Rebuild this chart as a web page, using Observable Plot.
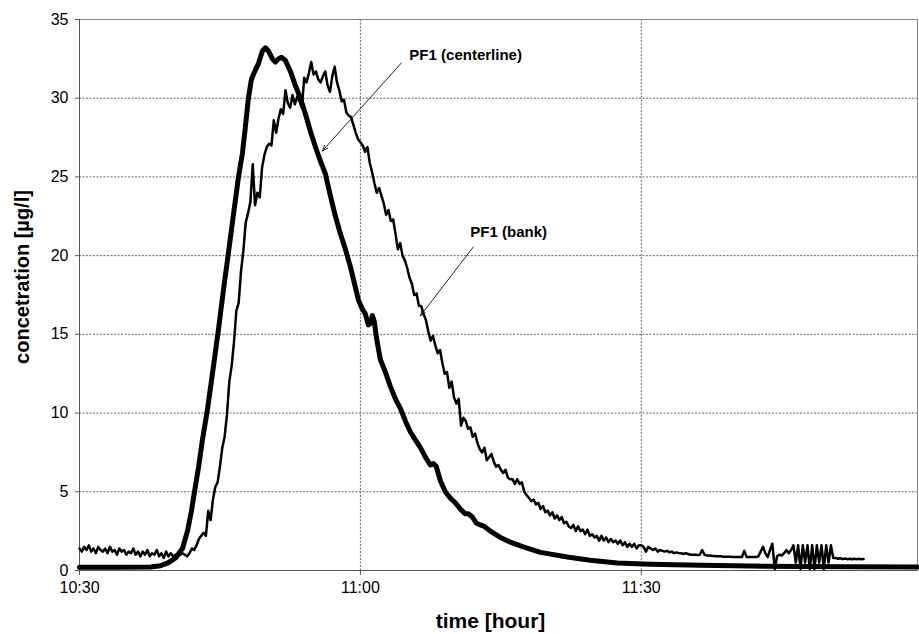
<!DOCTYPE html>
<html><head><meta charset="utf-8">
<script src="https://cdn.jsdelivr.net/npm/d3@7"></script>
<script src="https://cdn.jsdelivr.net/npm/@observablehq/plot@0.6"></script>
<style>body{margin:0;background:#fff;font-family:"Liberation Sans",Arial,sans-serif}</style>
</head><body><div id="chart"></div>
<script>
// time axis: minutes after 10:30
const xTicks = [0, 30, 60];
const xTickLabels = ["10:30", "11:00", "11:30"];
const yTicks = [0, 5, 10, 15, 20, 25, 30, 35];
const gridY = [5, 10, 15, 20, 25, 30];
const gridX = [30, 60];
const xLabel = "time [hour]";
const yLabel = "concetration [µg/l]";

// PF1 (centerline): thick curve, [minutes after 10:30]
const centerTime = [0,4.38,7.58,8.65,9.50,10.25,11.00,11.53,11.96,12.28,12.70,13.13,13.66,14.20,14.84,15.37,15.91,16.44,16.98,17.40,17.72,18.04,18.36,18.79,19.11,19.54,19.86,20.18,20.60,20.92,21.24,21.57,21.99,22.53,23.06,23.60,24.13,24.66,25.20,25.73,26.26,26.80,27.33,27.86,28.40,28.93,29.46,29.78,30.21,30.53,30.85,31.07,31.28,31.49,31.71,32.13,32.67,33.20,33.74,34.27,34.80,35.34,35.87,36.41,36.94,37.47,37.79,38.11,38.54,39.07,39.61,40.14,40.68,41.21,41.53,41.96,42.38,42.81,43.24,43.88,44.95,46.01,47.40,49.22,52.10,54.55,57.44,60.96,66.30,71.64,76.97,82.31,89.47];
const centerValue = [0.2,0.2,0.22,0.3,0.5,0.8,1.4,2.5,3.8,5,6.5,8.3,10.2,12.5,15.3,17.8,20.2,22.6,25,26.5,28.2,30,31.2,31.8,32.2,33,33.2,33,32.5,32.3,32.5,32.6,32.4,31.7,30.8,30.0,29,27.9,26.9,26,25.2,23.8,22.5,21.4,20.4,19.3,18,17.2,16.6,16.3,15.6,15.7,16.2,15.8,14.8,13.4,12.6,11.7,10.9,10.3,9.5,8.8,8.3,7.8,7.2,6.7,6.8,6.6,5.7,5.0,4.6,4.3,3.9,3.6,3.6,3.4,3.0,2.9,2.8,2.5,2.1,1.8,1.5,1.15,0.86,0.65,0.48,0.4,0.33,0.28,0.25,0.24,0.22];

// PF1 (bank): thin logger record, one reading every 0.25 min from 10:30
const bankStep = 0.25;
const bankValues = [
1.4,1.2,1.5,1.3,1.6,1.2,1.4,1.1,1.5,1.3,1.2,1.4,1.1,1.5,1.2,1.3,1.0,1.4,1.2,1.3,1.0,1.2,1.1,1.4,1.0,1.2,0.9,1.2,1.0,1.3,0.9,1.1,1.0,1.3,0.9,1.1,0.8,1.2,0.9,1.1,
0.9,1.0,0.9,1.0,1.1,1.0,0.9,1.1,1.4,1.3,1.6,2.0,2.2,2.4,2.2,3.8,3.2,4.5,5.3,5.6,
6.6,7.8,8.5,9.9,12.0,13.0,14.5,16.5,17.0,19.0,20.3,22.1,22.7,23.4,25.8,23.2,24.0,23.7,25.6,26.4,
26.9,27.1,27.0,28.6,27.8,28.7,29.3,29.0,30.5,29.7,29.4,30.2,29.6,30.1,29.8,29.4,31.3,31.0,31.6,32.3,
31.5,31.7,31.2,31.0,31.4,31.7,30.8,30.4,31.4,32.0,31.0,30.5,29.8,29.9,29.1,28.9,28.8,28.3,27.8,27.4,
27.2,27.0,26.6,26.9,25.9,25.3,24.6,24.0,24.3,23.8,23.3,22.6,22.9,22.2,22.3,21.4,20.4,20.8,20.0,19.7,
19.2,18.6,18.2,17.5,17.6,16.8,16.8,16.3,15.9,15.2,14.6,14.9,14.3,13.8,14.0,13.2,12.5,12.6,11.6,12.0,
11.0,10.6,10.9,9.2,9.7,9.5,9.0,9.1,8.5,8.7,8.1,7.7,7.5,7.8,7.0,7.2,7.4,6.9,6.6,6.7,
6.4,6.2,6.4,5.9,5.8,5.8,5.5,5.8,5.5,5.6,5.0,4.8,4.6,4.4,4.5,4.2,4.3,3.9,4.1,3.7,
3.8,3.5,3.7,3.3,3.5,3.2,3.4,3.0,3.1,2.8,2.7,2.9,2.5,2.8,2.5,2.6,2.3,2.6,2.2,2.3,
2.1,2.2,1.9,2.2,1.9,2.1,1.8,2.0,1.8,1.9,1.7,1.9,1.6,1.8,1.5,1.7,1.5,1.7,1.4,1.6,
1.6,1.5,1.2,1.5,1.4,1.3,1.4,1.2,1.3,1.25,1.2,1.25,1.15,1.2,1.1,1.15,1.1,1.1,1.05,1.1,
1.05,1.0,1.0,1.0,0.98,1.0,1.3,1.0,0.95,0.95,0.93,0.92,0.9,0.9,0.9,0.88,0.88,0.87,0.87,0.86,
0.86,0.85,0.85,0.86,1.25,0.85,0.85,0.85,0.85,0.85,0.9,1.2,1.5,1.1,0.85,1.3,1.7,0.1,0.9,1.0,
0.95,1.1,1.3,1.1,1.3,1.6,0.5,1.6,0.1,1.6,0.5,1.6,0.1,1.6,0.1,1.6,0.5,1.6,0.1,1.6,
0.5,1.6,0.8,0.8,0.75,0.78,0.72,0.76,0.72,0.75,0.72,0.74,0.72,0.74,0.72,0.73
];

// annotations
const annLabels = ["PF1 (centerline)", "PF1 (bank)"];
const annTextX = [35.23, 41.74];
const annTextY = [32.75, 21.5];
const annX1 = [34.38, 42.06];
const annY1 = [32.24, 20.55];
const annX2 = [25.94, 36.40];
const annY2 = [26.65, 16.17];

const center = centerTime.map((t, i) => ({t, v: centerValue[i]}));
const bank = bankValues.map((v, i) => ({t: i * bankStep, v}));
const ann = annLabels.map((label, i) => ({label, tx: annTextX[i], ty: annTextY[i], x1: annX1[i], y1: annY1[i], x2: annX2[i], y2: annY2[i]}));

const chart = Plot.plot({
  width: 919,
  height: 634,
  marginLeft: 79,
  marginRight: 2,
  marginTop: 19,
  marginBottom: 64,
  style: {fontFamily: '"Liberation Sans", Arial, sans-serif', background: "#fff", color: "#000"},
  x: {domain: [0, 89.5]},
  y: {domain: [0, 35]},
  marks: [
    Plot.gridY(gridY, {stroke: "#666", strokeOpacity: 1, strokeDasharray: "2,1.5", strokeWidth: 1}),
    Plot.gridX(gridX, {stroke: "#666", strokeOpacity: 1, strokeDasharray: "2,1.5", strokeWidth: 1}),
    Plot.frame({stroke: "#888"}),
    Plot.ruleX([0], {stroke: "#555"}),
    Plot.ruleY([0], {stroke: "#555"}),
    Plot.axisY({ticks: yTicks, tickSize: 4, tickPadding: 7, fontSize: 16, label: null, stroke: "#555"}),
    Plot.axisX({ticks: xTicks, tickFormat: (d) => xTickLabels[xTicks.indexOf(d)], tickSize: 5, tickPadding: 6, fontSize: 16, label: null, stroke: "#555"}),
    Plot.line(bank, {x: "t", y: "v", stroke: "#000", strokeWidth: 2.5, strokeLinejoin: "round"}),
    Plot.line(center, {x: "t", y: "v", stroke: "#000", strokeWidth: 5, strokeLinejoin: "round", strokeLinecap: "round"}),
    Plot.arrow(ann, {x1: "x1", y1: "y1", x2: "x2", y2: "y2", stroke: "#222", strokeWidth: 1, headLength: 9, headAngle: 40}),
    Plot.text(ann, {x: "tx", y: "ty", text: "label", textAnchor: "start", lineAnchor: "middle", fontWeight: "bold", fontSize: 15, fill: "#000"}),
    Plot.text([yLabel], {frameAnchor: "left", dx: -57, dy: -18, rotate: -90, textAnchor: "middle", lineAnchor: "middle", fontWeight: "bold", fontSize: 20, fill: "#000"}),
    Plot.text([xLabel], {frameAnchor: "bottom", dx: -8, dy: 51, textAnchor: "middle", lineAnchor: "middle", fontWeight: "bold", fontSize: 21, fill: "#000"})
  ]
});
document.getElementById("chart").append(chart);
</script>
</body></html>
